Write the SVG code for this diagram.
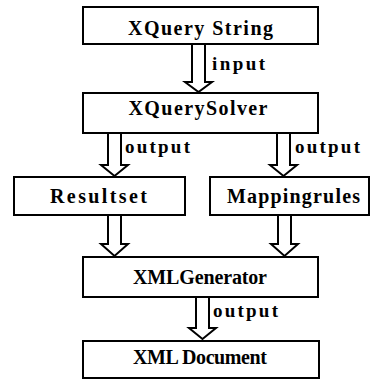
<svg xmlns="http://www.w3.org/2000/svg" width="372" height="380" viewBox="0 0 372 380">
  <style>
    .box { fill: #ffffff; stroke: #000000; stroke-width: 2; }
    .name { font-family: "Liberation Serif", "DejaVu Serif", serif; font-size: 20px; font-weight: bold; fill: #000000; text-anchor: middle; }
    .lbl { font-family: "Liberation Serif", "DejaVu Serif", serif; font-size: 19px; font-weight: bold; fill: #000000; }
    .arrow { fill: #ffffff; stroke: #000000; stroke-width: 2; stroke-linejoin: miter; }
  </style>
  <rect width="372" height="380" fill="#ffffff"/>

  <!-- hollow block arrows -->
  <g id="connectors">
    <polygon class="arrow" points="192,44 205,44 205,82 212,82 198.5,92 185,82 192,82"/>
    <text class="lbl" x="212" y="70" textLength="53">input</text>

    <polygon class="arrow" points="108,133 121,133 121,165 128,165 114.5,176 101,165 108,165"/>
    <text class="lbl" x="125" y="153" textLength="65">output</text>

    <polygon class="arrow" points="277,133 290,133 290,165 297,165 283.5,176 270,165 277,165"/>
    <text class="lbl" x="295" y="153" textLength="65">output</text>

    <polygon class="arrow" points="108,215 121,215 121,244 128,244 114.5,256 101,244 108,244"/>
    <polygon class="arrow" points="278,215 291,215 291,244 298,244 284.5,256 271,244 278,244"/>

    <polygon class="arrow" points="196,297 209,297 209,328 216,328 202.5,339 189,328 196,328"/>
    <text class="lbl" x="213" y="317" textLength="65">output</text>
  </g>

  <g id="xquery-string">
    <rect class="box" x="83" y="7" width="235" height="37"/>
    <text class="name" x="200.5" y="35" textLength="145">XQuery String</text>
  </g>

  <g id="xquery-solver">
    <rect class="box" x="83" y="93" width="235" height="40"/>
    <text class="name" x="198" y="115" textLength="139">XQuerySolver</text>
  </g>

  <g id="resultset">
    <rect class="box" x="14" y="177" width="171" height="38"/>
    <text class="name" x="98.5" y="203" textLength="97">Resultset</text>
  </g>

  <g id="mappingrules">
    <rect class="box" x="210" y="177" width="159" height="38"/>
    <text class="name" x="293.5" y="203" textLength="133">Mappingrules</text>
  </g>

  <g id="xml-generator">
    <rect class="box" x="83" y="257" width="235" height="40"/>
    <text class="name" x="200" y="284" textLength="134">XMLGenerator</text>
  </g>

  <g id="xml-document">
    <rect class="box" x="83" y="341" width="236" height="37"/>
    <text class="name" x="200" y="364" textLength="134">XML Document</text>
  </g>
</svg>
